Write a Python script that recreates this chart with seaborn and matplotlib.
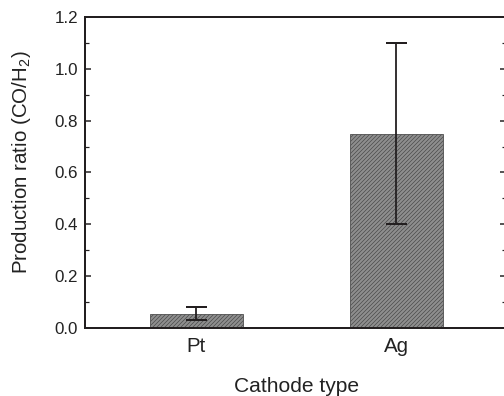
import matplotlib
matplotlib.use("Agg")
import matplotlib.pyplot as plt
from matplotlib.ticker import MultipleLocator
import seaborn as sns
import pandas as pd

# Cathode materials and measured CO/H2 production ratios
cathodes = ["Pt", "Ag"]
ratios = [0.055, 0.75]
errors = [0.026, 0.35]

sns.set_theme(style="white")
plt.rcParams["font.family"] = ["Liberation Sans", "DejaVu Sans"]
plt.rcParams["hatch.linewidth"] = 0.7
plt.rcParams["mathtext.fontset"] = "custom"
plt.rcParams["mathtext.rm"] = "Liberation Sans"
plt.rcParams["mathtext.it"] = "Liberation Sans"

df = pd.DataFrame({"cathode": cathodes, "ratio": ratios, "err": errors})

dark = "#231f20"
text = "#222222"
fig = plt.figure(figsize=(7.0, 5.5), dpi=72)
ax = fig.add_axes([85 / 504, 1 - 328 / 396, (506 - 85) / 504, (328 - 17) / 396])

sns.barplot(data=df, x="cathode", y="ratio", ax=ax, width=0.465,
            color="#8e8e8e", saturation=1, edgecolor="#4a4a4a",
            linewidth=0.8, hatch="//////", errorbar=None)

ax.errorbar(range(len(cathodes)), df["ratio"], yerr=df["err"], fmt="none",
            ecolor=dark, elinewidth=1.8, capsize=10.5, capthick=2.0, zorder=5)

ax.set_xlim(-0.5575, 1.55)
ax.set_ylim(0, 1.2)
ax.yaxis.set_major_locator(MultipleLocator(0.2))
ax.yaxis.set_minor_locator(MultipleLocator(0.1))
ax.yaxis.set_major_formatter(plt.FormatStrFormatter("%.1f"))

ax.tick_params(axis="y", which="major", direction="in", length=6, width=1.5,
               color=dark, left=True, right=True, labelsize=17, labelcolor=text,
               pad=7)
ax.tick_params(axis="y", which="minor", direction="in", length=4, width=1.2,
               color=dark, left=True, right=True)
ax.tick_params(axis="x", length=0, labelsize=20.5, labelcolor=text, pad=9)

for side in ["left", "bottom", "top", "right"]:
    ax.spines[side].set_color(dark)
    ax.spines[side].set_linewidth(2.0)

ax.set_xlabel("Cathode type", fontsize=21, color=text)
ax.xaxis.set_label_coords(0.5 * (296 * 2 - 2 * 85) / 421, -0.205)
ax.xaxis.label.set_va("baseline")
ax.set_ylabel("Production ratio (CO/H$_2$)", fontsize=20.5, color=text)
ax.yaxis.set_label_coords(-0.123, 0.534)

fig.savefig("out.png", dpi=72)
